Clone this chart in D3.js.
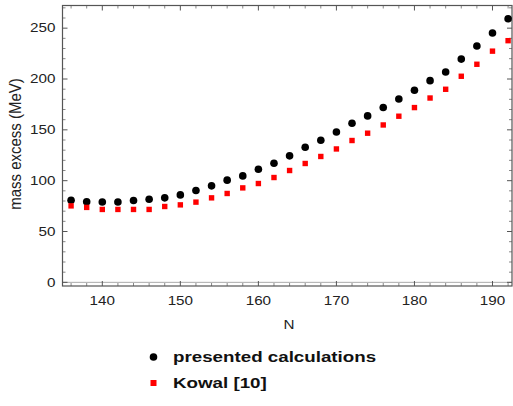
<!DOCTYPE html>
<html>
<head>
<meta charset="utf-8">
<script src="https://cdn.jsdelivr.net/npm/d3@7"></script>
<style>
  html, body { margin: 0; padding: 0; background: #fff; }
  svg { display: block; font-family: "Liberation Sans", Arial, sans-serif; }
</style>
</head>
<body>
<svg id="chart" width="513" height="406"></svg>
<script>
// Neutron numbers
const neutrons = [136,138,140,142,144,146,148,150,152,154,156,158,160,162,164,
                  166,168,170,172,174,176,178,180,182,184,186,188,190,192];
// Mass excess (MeV) — present calculations
const presented = [80.8,79.2,79.0,79.0,80.5,81.8,83.1,86.0,90.4,94.9,100.5,104.7,111.3,117.2,124.4,
                   132.9,139.8,147.9,156.5,163.7,171.9,180.4,188.9,198.4,206.9,219.6,232.4,245.2,259.3];
// Mass excess (MeV) — Kowal [10]
const kowal = [75.2,73.7,71.7,71.7,71.7,71.7,74.6,76.2,78.9,83.1,87.4,92.9,97.2,103.1,110.0,
               116.9,123.8,131.2,139.5,146.7,154.8,163.4,171.9,181.3,189.9,202.7,214.5,227.4,237.7];
const xTicks = [140,150,160,170,180,190];
const yTicks = [0,50,100,150,200,250];
const legendLabels = ["presented calculations", "Kowal [10]"];

const svg = d3.select("#chart");
const plotL = 62.5, plotR = 512, plotT = 5.5, plotB = 286;
const wide = 1.27; // glyphs are set wide

const x = d3.scaleLinear().domain([134.9, 192.5]).range([plotL, plotR]);
const y = d3.scaleLinear().domain([-3.6, 272.3]).range([plotB, plotT]);

const frameColor = "#555";
const g = svg.append("g");

// zero axis line
g.append("line")
  .attr("x1", plotL).attr("x2", plotR)
  .attr("y1", y(0)).attr("y2", y(0))
  .attr("stroke", "#aaa").attr("stroke-width", 1);

// ticks: major and minor, on all four sides, pointing inward
const xMinor = d3.range(136, 193, 2).filter(v => v % 10 !== 0);
const yMinor = d3.range(0, 271, 10).filter(v => v % 50 !== 0);

function xTickMarks(vals, len, color) {
  vals.forEach(v => {
    const px = x(v);
    g.append("line").attr("x1", px).attr("x2", px).attr("y1", plotB).attr("y2", plotB - len)
      .attr("stroke", color).attr("stroke-width", 1);
    g.append("line").attr("x1", px).attr("x2", px).attr("y1", plotT).attr("y2", plotT + len)
      .attr("stroke", color).attr("stroke-width", 1);
  });
}
function yTickMarks(vals, len, color) {
  vals.forEach(v => {
    const py = y(v);
    g.append("line").attr("x1", plotL).attr("x2", plotL + len).attr("y1", py).attr("y2", py)
      .attr("stroke", color).attr("stroke-width", 1);
    g.append("line").attr("x1", plotR).attr("x2", plotR - len).attr("y1", py).attr("y2", py)
      .attr("stroke", color).attr("stroke-width", 1);
  });
}
xTickMarks(xTicks, 5, frameColor);
xTickMarks(xMinor, 3, "#888");
yTickMarks(yTicks, 5, frameColor);
yTickMarks(yMinor, 3, "#888");

// frame
g.append("rect")
  .attr("x", plotL).attr("y", plotT)
  .attr("width", plotR - plotL).attr("height", plotB - plotT)
  .attr("fill", "none").attr("stroke", frameColor).attr("stroke-width", 1.2);

// tick labels
g.selectAll(".xl").data(xTicks).enter().append("text")
  .attr("transform", d => `translate(${x(d)},305) scale(${wide},1)`)
  .attr("text-anchor", "middle").attr("font-size", 12).attr("fill", "#222")
  .text(d => d);
g.selectAll(".yl").data(yTicks).enter().append("text")
  .attr("transform", d => `translate(55.5,${y(d) + 4.2}) scale(${wide},1)`)
  .attr("text-anchor", "end").attr("font-size", 12).attr("fill", "#222")
  .text(d => d);

// axis titles
g.append("text")
  .attr("transform", `translate(289,329) scale(${wide},1)`)
  .attr("text-anchor", "middle").attr("font-size", 12).attr("fill", "#222").text("N");
g.append("text")
  .attr("transform", `translate(20.5,144) scale(1.1,1) rotate(-90)`)
  .attr("text-anchor", "middle").attr("font-size", 15).attr("fill", "#222")
  .text("mass excess (MeV)");

// data
g.selectAll(".calc").data(neutrons).enter().append("circle")
  .attr("cx", d => x(d)).attr("cy", (d, i) => y(presented[i]))
  .attr("r", 3.8).attr("fill", "#000");
g.selectAll(".kow").data(neutrons).enter().append("rect")
  .attr("x", d => x(d) - 2.7).attr("y", (d, i) => y(kowal[i]) - 2.7)
  .attr("width", 5.4).attr("height", 5.4).attr("fill", "#f00");

// legend
const lg = svg.append("g");
lg.append("circle").attr("cx", 153.5).attr("cy", 357).attr("r", 3.8).attr("fill", "#000");
lg.append("rect").attr("x", 150.5).attr("y", 380).attr("width", 6).attr("height", 6).attr("fill", "#f00");
lg.selectAll("text").data(legendLabels).enter().append("text")
  .attr("transform", (d, i) => `translate(173,${362 + i * 26}) scale(${wide * 0.985},1)`)
  .attr("font-size", 15).attr("font-weight", "bold").attr("fill", "#111")
  .text(d => d);
</script>
</body>
</html>
